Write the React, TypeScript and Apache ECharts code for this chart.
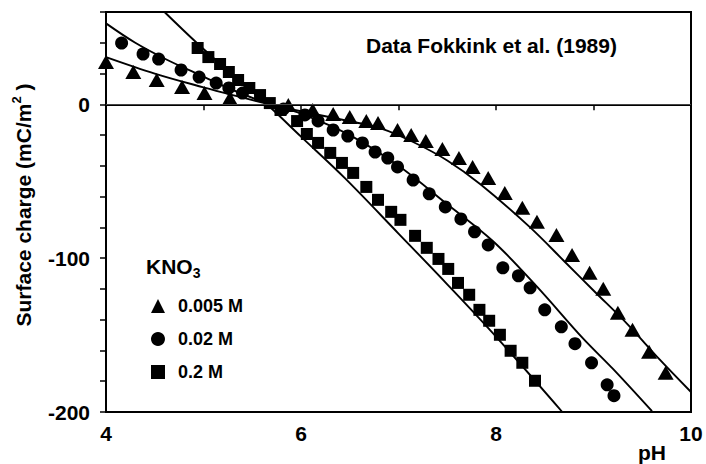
import React, { useEffect, useRef } from "react";
import * as echarts from "echarts";

const FONT = "'Liberation Sans', Arial, Helvetica, sans-serif";

// measured points: [pH, surface charge mC/m2]
const tri005 = [
  [4.0, 27.5], [4.28, 21.0], [4.52, 15.8], [4.78, 11.2], [5.01, 7.3], [5.27, 4.0],
  [5.87, -0.5], [6.12, -3.7], [6.33, -6.3], [6.5, -8.2], [6.67, -10.8], [6.79, -12.1],
  [6.99, -16.7], [7.13, -19.9], [7.28, -23.8], [7.45, -29.0], [7.62, -34.9], [7.76, -40.7],
  [7.92, -47.9], [8.09, -57.6], [8.27, -67.3], [8.42, -76.4], [8.62, -84.9], [8.78, -97.9],
  [8.96, -109.5], [9.1, -119.9], [9.25, -135.5], [9.4, -146.6], [9.57, -160.8], [9.74, -174.5],
];
const circ002 = [
  [4.16, 39.8], [4.38, 32.7], [4.54, 29.4], [4.77, 22.3], [4.955, 17.7], [5.13, 13.8],
  [5.26, 10.6], [5.4, 7.3], [5.82, -3.1], [6.04, -6.9], [6.175, -10.8], [6.33, -16.7],
  [6.48, -20.6], [6.63, -25.1], [6.76, -31.0], [6.89, -34.9], [6.99, -40.7], [7.15, -49.2],
  [7.315, -58.2], [7.48, -66.7], [7.64, -74.5], [7.78, -82.9], [7.92, -91.4], [8.07, -106.3],
  [8.23, -111.5], [8.35, -119.3], [8.5, -133.6], [8.67, -144.6], [8.81, -155.6], [8.98, -168.0],
  [9.14, -182.3], [9.21, -189.4],
];
const sq02 = [
  [4.94, 36.6], [5.05, 30.7], [5.17, 26.2], [5.26, 21.0], [5.355, 15.8], [5.47, 10.6],
  [5.58, 6.0], [5.68, 0.8], [5.79, -3.7], [5.96, -10.9], [6.06, -19.3], [6.175, -25.1],
  [6.3, -31.6], [6.42, -38.1], [6.535, -44.6], [6.67, -53.7], [6.79, -62.1], [6.925, -69.9],
  [7.02, -75.1], [7.17, -85.5], [7.29, -93.3], [7.41, -100.5], [7.51, -107.0], [7.61, -116.1],
  [7.725, -123.8], [7.83, -133.6], [7.93, -140.7], [8.04, -149.8], [8.15, -160.2], [8.27, -168.0],
  [8.4, -179.7],
];
// model curves
const fit005 = [
  [4.0, 30.7], [4.5, 20], [5.0, 11], [5.3, 6], [5.68, 0], [6.0, -4.5], [6.5, -11],
  [6.81, -15.5], [7.15, -24.5], [7.5, -36.5], [7.84, -52], [8.35, -80], [8.7, -102],
  [9.0, -121], [9.35, -143], [9.68, -166], [10.0, -187],
];
const fit002 = [
  [4.0, 52.6], [4.3, 40], [4.63, 28.8], [5.0, 18], [5.3, 9.3], [5.68, 0], [6.0, -6],
  [6.5, -20], [7.0, -40], [7.5, -65], [7.97, -89], [8.42, -118.5], [8.89, -152],
  [9.2, -172], [9.6, -199.5],
];
const fit02 = [
  [4.6, 60], [4.93, 40], [5.3, 19], [5.65, 0], [6.0, -21], [6.45, -48], [7.0, -84],
  [7.5, -117], [8.0, -151], [8.68, -200],
];

const seriesNames = ["0.005 M", "0.02 M", "0.2 M"];
const xTickLabels = [4, 6, 8, 10];
const yTickLabels = [-200, -100, 0];

export default function App() {
  const ref = useRef<HTMLDivElement>(null);
  useEffect(() => {
    const chart = echarts.init(ref.current!, null, { renderer: "svg" });
    const lineBase = {
      type: "line",
      symbol: "none",
      showSymbol: false,
      smooth: 0.35,
      lineStyle: { color: "#000", width: 1.9 },
      z: 2,
      silent: true,
    };
    const dot = { color: "#000", opacity: 1 };
    chart.setOption({
      animation: false,
      backgroundColor: "#fff",
      grid: {
        left: 106, top: 12, width: 585, height: 400,
        show: true, borderColor: "#000", borderWidth: 2, backgroundColor: "transparent",
      },
      xAxis: {
        type: "value", min: 4, max: 10, interval: 1,
        axisLine: { show: true, lineStyle: { color: "#000", width: 2 } },
        axisTick: { show: true, inside: false, length: 6, lineStyle: { color: "#000", width: 1.5 } },
        axisLabel: {
          formatter: (v: number) => (xTickLabels.includes(v) ? String(v) : ""),
          fontSize: 21, fontWeight: "bold", color: "#000", fontFamily: FONT, margin: 11,
        },
        splitLine: { show: false },
      },
      yAxis: {
        type: "value", min: -200, max: 60, interval: 20,
        axisLine: { show: true, lineStyle: { color: "#000", width: 2 } },
        axisTick: { show: true, inside: false, length: 6, lineStyle: { color: "#000", width: 1.5 } },
        axisLabel: {
          formatter: (v: number) => (yTickLabels.includes(v) ? String(v) : ""),
          fontSize: 21, fontWeight: "bold", color: "#000", fontFamily: FONT, margin: 16,
        },
        splitLine: { show: false },
      },
      legend: {
        data: seriesNames,
        orient: "vertical",
        left: 146, top: 292,
        itemWidth: 14, itemHeight: 14, itemGap: 15,
        selectedMode: false,
        textStyle: { fontSize: 18, fontWeight: "bold", color: "#000", fontFamily: FONT, padding: [0, 0, 0, 8] },
      },
      graphic: [
        {
          type: "text", left: 146, top: 256,
          style: {
            text: "{a|KNO}{b|3}",
            rich: {
              a: { fontSize: 21, fontWeight: "bold", fontFamily: FONT, fill: "#000", lineHeight: 26 },
              b: { fontSize: 14, fontWeight: "bold", fontFamily: FONT, fill: "#000", lineHeight: 14, verticalAlign: "bottom" },
            },
          },
        },
        {
          type: "text", x: 23, y: 205, rotation: Math.PI / 2,
          style: {
            text: "{a|Surface charge (mC/m}{s|2}{a| )}",
            align: "center", verticalAlign: "middle",
            rich: {
              a: { fontSize: 21, fontWeight: "bold", fontFamily: FONT, fill: "#000", lineHeight: 26 },
              s: { fontSize: 13, fontWeight: "bold", fontFamily: FONT, fill: "#000", lineHeight: 13, verticalAlign: "top" },
            },
          },
        },
        {
          type: "text", left: 366, top: 35,
          style: { text: "Data Fokkink et al. (1989)", fontSize: 21, fontWeight: "bold", fontFamily: FONT, fill: "#000" },
        },
        {
          type: "text", x: 652, y: 452,
          style: { text: "pH", align: "center", verticalAlign: "middle", fontSize: 21, fontWeight: "bold", fontFamily: FONT, fill: "#000" },
        },
      ],
      series: [
        {
          ...lineBase, data: fit005,
          markLine: {
            silent: true, symbol: "none", label: { show: false },
            lineStyle: { color: "#444", width: 1, type: "solid" },
            data: [{ yAxis: 0 }],
          },
        },
        { ...lineBase, data: fit002 },
        { ...lineBase, data: fit02 },
        { type: "scatter", name: seriesNames[0], data: tri005, symbol: "triangle", symbolSize: [16, 14], itemStyle: dot, z: 3 },
        { type: "scatter", name: seriesNames[1], data: circ002, symbol: "circle", symbolSize: 13, itemStyle: dot, z: 3 },
        { type: "scatter", name: seriesNames[2], data: sq02, symbol: "rect", symbolSize: 12, itemStyle: dot, z: 3 },
      ],
    });
    return () => chart.dispose();
  }, []);
  return <div ref={ref} style={{ position: "absolute", left: 0, top: 0, width: 706, height: 464 }} />;
}
